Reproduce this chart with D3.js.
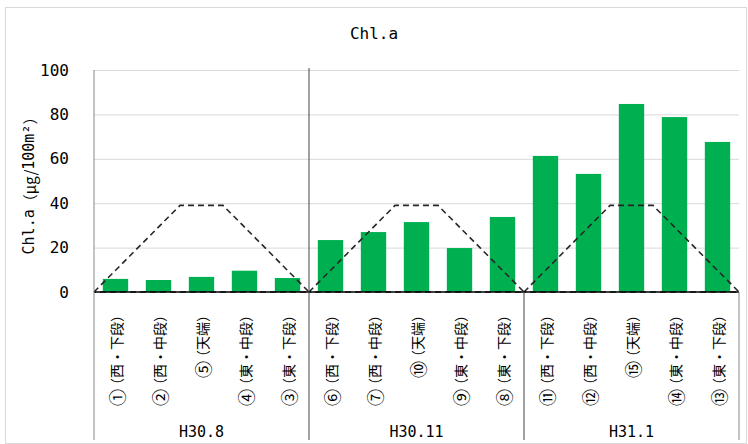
<!DOCTYPE html>
<html>
<head>
<meta charset="utf-8">
<script src="https://d3js.org/d3.v7.min.js"></script>
<style>
  body { margin: 0; background: #fff; }
  text { font-family: "Noto Sans CJK JP", "DejaVu Sans", sans-serif; fill: #000; }
  .mono { font-family: "DejaVu Sans Mono", "Liberation Mono", monospace; }
</style>
</head>
<body>
<script>
// data
const categories = [
  "①（西・下段）", "②（西・中段）", "⑤（天端）", "④（東・中段）", "③（東・下段）",
  "⑥（西・下段）", "⑦（西・中段）", "⑩（天端）", "⑨（東・中段）", "⑧（東・下段）",
  "⑪（西・下段）", "⑫（西・中段）", "⑮（天端）", "⑭（東・中段）", "⑬（東・下段）"
];
const groups = ["H30.8", "H30.11", "H31.1"];
const values = [5.9, 5.4, 6.8, 9.6, 6.3, 23.4, 27.0, 31.5, 19.8, 33.8, 61.3, 53.2, 84.7, 78.8, 67.6];
const yTicks = [0, 20, 40, 60, 80, 100];
// cross-section outline (band offset within a group, value)
const profileX = [0, 2, 3, 5, 0];
const profileY = [0, 39, 39, 0, 0];

const width = 748, height = 444;
const plotLeft = 94, plotRight = 739, plotTop = 70, plotBottom = 292, labelBottom = 440;

let svg = d3.select("body").append("svg")
  .attr("width", width)
  .attr("height", height);

// chart border
svg.append("rect")
  .attr("x", 5.5).attr("y", 7.5)
  .attr("width", 741).attr("height", 436)
  .attr("fill", "#fff")
  .attr("stroke", "#d9d9d9");

let x = d3.scaleBand()
  .domain(categories)
  .range([plotLeft, plotRight])
  .paddingInner(0.41)
  .paddingOuter(0.205);

let xPos = d3.scaleLinear().domain([0, categories.length]).range([plotLeft, plotRight]);

let y = d3.scaleLinear().domain([0, 100]).range([plotBottom, plotTop]);

// gridlines
svg.append("g")
  .attr("transform", `translate(${plotLeft},0)`)
  .call(d3.axisLeft(y).tickValues(yTicks.slice(1)).tickSize(-(plotRight - plotLeft)).tickFormat(""))
  .call(g => g.select(".domain").remove())
  .call(g => g.selectAll("line").attr("stroke", "#d9d9d9"));

// tick labels
svg.append("g")
  .attr("transform", `translate(${plotLeft},0)`)
  .call(d3.axisLeft(y).tickValues(yTicks).tickSize(0).tickPadding(25))
  .call(g => g.select(".domain").remove())
  .call(g => g.selectAll("text")
    .attr("class", "mono")
    .style("font-size", "16px")
    .attr("font-family", null)
    .attr("fill", "#000"));

// bars
svg.selectAll("rect.bar")
  .data(values)
  .join("rect")
    .attr("class", "bar")
    .attr("x", (d, i) => x(categories[i]))
    .attr("y", d => y(d))
    .attr("width", x.bandwidth())
    .attr("height", d => y(0) - y(d))
    .attr("fill", "#00b050");

// dashed cross-section outlines
let line = d3.line()
  .x(d => d[0])
  .y(d => d[1]);

groups.forEach((g, gi) => {
  let pts = profileX.map((px, k) => [xPos(gi * 5 + px), y(profileY[k])]);
  svg.append("path")
    .attr("d", line(pts))
    .attr("fill", "none")
    .attr("stroke", "#262626")
    .attr("stroke-width", 1.6)
    .attr("stroke-dasharray", "6,4");
});

// axes frame
svg.append("line")
  .attr("x1", plotLeft).attr("x2", plotRight)
  .attr("y1", plotBottom).attr("y2", plotBottom)
  .attr("stroke", "#000").attr("stroke-width", 1.3);

svg.append("line")
  .attr("x1", plotLeft).attr("x2", plotLeft)
  .attr("y1", plotTop).attr("y2", labelBottom)
  .attr("stroke", "#888");

svg.append("line")
  .attr("x1", xPos(5)).attr("x2", xPos(5))
  .attr("y1", plotTop - 2).attr("y2", labelBottom)
  .attr("stroke", "#444");

svg.append("line")
  .attr("x1", xPos(10)).attr("x2", xPos(10))
  .attr("y1", plotBottom).attr("y2", labelBottom)
  .attr("stroke", "#444");

svg.append("line")
  .attr("x1", plotRight).attr("x2", plotRight)
  .attr("y1", plotBottom).attr("y2", labelBottom)
  .attr("stroke", "#888");

// category labels (rotated); circled number drawn a bit larger
let cat = svg.selectAll("text.cat")
  .data(categories)
  .join("text")
    .attr("class", "cat")
    .attr("transform", d => `translate(${x(d) + x.bandwidth() / 2},308) rotate(-90)`)
    .attr("text-anchor", "end")
    .attr("dominant-baseline", "central")
    .style("font-size", "14px");

cat.append("tspan")
  .style("font-size", "17px")
  .text(d => d.slice(0, 1));
cat.append("tspan")
  .attr("dx", -3)
  .text(d => d.slice(1));

// group labels
svg.selectAll("text.grp")
  .data(groups)
  .join("text")
    .attr("class", "grp mono")
    .attr("x", (d, i) => xPos(i * 5 + 2.5))
    .attr("y", 437)
    .attr("text-anchor", "middle")
    .style("font-size", "15px")
    .text(d => d);

// title
svg.append("text")
  .attr("class", "mono")
  .attr("x", 374)
  .attr("y", 39)
  .attr("text-anchor", "middle")
  .style("font-size", "16px")
  .text("Chl.a");

// y axis title
let yTitle = svg.append("text")
  .attr("transform", "translate(29,182) rotate(-90)")
  .attr("text-anchor", "middle")
  .attr("dominant-baseline", "central")
  .style("font-size", "15px");
yTitle.append("tspan").attr("class", "mono").text("Chl.a");
yTitle.append("tspan").text("（μg/");
yTitle.append("tspan").attr("class", "mono").text("100m²");
yTitle.append("tspan").text("）");
</script>
</body>
</html>
